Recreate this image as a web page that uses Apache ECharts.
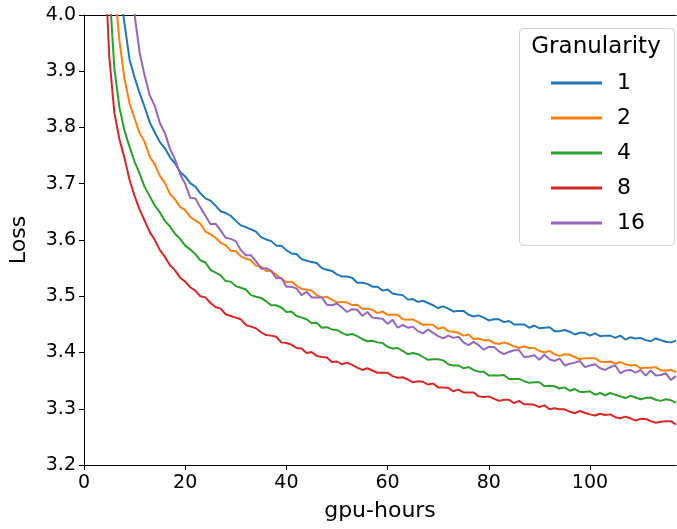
<!DOCTYPE html>
<html>
<head>
<meta charset="utf-8">
<script src="https://cdn.jsdelivr.net/npm/echarts@6/dist/echarts.min.js"></script>
<style>
html,body{margin:0;padding:0;background:#fff;}
#chart{width:677px;height:529px;}
</style>
</head>
<body>
<div id="chart"></div>
<script>
const gpuHours = [4,5,6,7,8,9,10,11,12,13,14,15,16,17,18,19,20,
21,22,23,24,25,26,27,28,29,30,31,32,33,34,35,36,37,38,39,40,
41,42,43,44,45,46,47,48,49,50,51,52,53,54,55,56,57,58,59,60,
61,62,63,64,65,66,67,68,69,70,71,72,73,74,75,76,77,78,79,80,
81,82,83,84,85,86,87,88,89,90,91,92,93,94,95,96,97,98,99,100,
101,102,103,104,105,106,107,108,109,110,111,112,113,114,115,116,117];

const granularity = ['1','2','4','8','16'];
const colors = ['#1f77b4','#ff7f0e','#2ca02c','#d62728','#9467bd'];

const loss1 = [null,null,null,4.050,3.985,3.921,3.889,3.861,3.836,3.809,3.791,3.774,3.763,3.747,3.736,3.721,3.713,
3.701,3.695,3.683,3.674,3.670,3.661,3.651,3.648,3.643,3.634,
3.626,3.623,3.619,3.615,3.605,3.601,3.598,3.590,3.590,3.582,
3.576,3.575,3.566,3.563,3.561,3.559,3.550,3.547,3.545,3.539,
3.535,3.535,3.533,3.524,3.524,3.522,3.517,3.517,3.510,3.512,
3.505,3.503,3.502,3.494,3.495,3.490,3.492,3.488,3.484,3.479,
3.482,3.478,3.473,3.474,3.474,3.467,3.464,3.466,3.462,3.457,
3.459,3.459,3.454,3.456,3.450,3.450,3.450,3.444,3.448,3.443,
3.444,3.445,3.438,3.438,3.440,3.437,3.432,3.435,3.435,3.430,
3.434,3.429,3.430,3.430,3.426,3.430,3.423,3.427,3.425,3.426,
3.422,3.420,3.425,3.422,3.419,3.418,3.421];

const loss2 = [null,null,4.050,3.955,3.887,3.843,3.816,3.790,3.774,3.748,3.734,3.714,3.701,3.682,3.672,3.659,3.653,
3.641,3.635,3.629,3.615,3.610,3.604,3.595,3.591,3.581,3.580,
3.571,3.567,3.564,3.554,3.553,3.545,3.545,3.538,3.531,3.525,
3.526,3.519,3.513,3.512,3.510,3.502,3.498,3.499,3.494,3.489,
3.490,3.489,3.484,3.485,3.478,3.478,3.476,3.470,3.473,3.467,
3.467,3.467,3.459,3.458,3.459,3.454,3.449,3.450,3.449,3.442,
3.445,3.438,3.437,3.435,3.430,3.432,3.424,3.425,3.422,3.422,
3.417,3.415,3.418,3.415,3.411,3.408,3.411,3.408,3.408,3.403,
3.400,3.403,3.397,3.394,3.397,3.396,3.392,3.388,3.390,3.390,
3.390,3.384,3.383,3.384,3.380,3.383,3.379,3.377,3.378,3.372,
3.373,3.373,3.374,3.368,3.368,3.369,3.365];

const loss4 = [null,4.050,3.905,3.836,3.794,3.766,3.739,3.718,3.694,3.678,3.661,3.649,3.634,3.624,3.611,3.602,3.590,
3.583,3.575,3.564,3.560,3.547,3.542,3.537,3.527,3.526,3.518,
3.515,3.512,3.502,3.499,3.497,3.491,3.484,3.484,3.480,3.472,
3.473,3.465,3.462,3.459,3.452,3.453,3.444,3.445,3.441,3.440,
3.435,3.431,3.433,3.429,3.424,3.420,3.421,3.418,3.417,3.410,
3.407,3.408,3.403,3.397,3.399,3.397,3.392,3.387,3.388,3.388,
3.386,3.379,3.377,3.377,3.372,3.374,3.369,3.366,3.366,3.359,
3.359,3.359,3.360,3.353,3.353,3.353,3.349,3.346,3.347,3.347,
3.340,3.341,3.340,3.336,3.338,3.332,3.335,3.330,3.330,3.331,
3.325,3.328,3.324,3.328,3.325,3.322,3.319,3.323,3.320,3.317,
3.319,3.320,3.316,3.314,3.317,3.315,3.311];

const loss8 = [4.120,3.925,3.826,3.779,3.746,3.707,3.678,3.654,3.634,3.614,3.600,3.582,3.570,3.555,3.546,3.533,3.526,
3.516,3.510,3.500,3.498,3.488,3.481,3.478,3.468,3.465,3.462,
3.459,3.449,3.446,3.443,3.436,3.431,3.430,3.428,3.418,3.417,
3.414,3.408,3.407,3.399,3.401,3.394,3.392,3.391,3.383,3.384,
3.379,3.382,3.378,3.373,3.369,3.372,3.368,3.364,3.364,3.364,
3.358,3.355,3.356,3.352,3.347,3.349,3.348,3.343,3.345,3.338,
3.338,3.337,3.331,3.334,3.329,3.329,3.329,3.322,3.321,3.322,
3.318,3.314,3.316,3.316,3.310,3.314,3.308,3.308,3.307,3.303,
3.306,3.299,3.301,3.299,3.299,3.295,3.292,3.296,3.293,3.290,
3.288,3.291,3.289,3.290,3.285,3.283,3.286,3.283,3.279,3.282,
3.282,3.278,3.275,3.277,3.278,3.278,3.272];

const loss16 = [null,null,null,null,null,4.100,4.000,3.933,3.892,3.857,3.838,3.808,3.790,3.762,3.743,3.717,3.700,
3.675,3.674,3.658,3.643,3.628,3.629,3.617,3.604,3.602,3.598,
3.582,3.573,3.573,3.562,3.549,3.550,3.545,3.532,3.533,3.517,
3.517,3.514,3.502,3.508,3.498,3.498,3.498,3.485,3.484,3.487,
3.480,3.472,3.477,3.476,3.465,3.472,3.462,3.461,3.460,3.451,
3.458,3.444,3.449,3.444,3.446,3.438,3.434,3.441,3.435,3.429,
3.425,3.430,3.426,3.428,3.418,3.413,3.419,3.413,3.405,3.410,
3.410,3.402,3.397,3.401,3.404,3.404,3.392,3.393,3.395,3.387,
3.396,3.388,3.385,3.389,3.377,3.380,3.382,3.385,3.374,3.377,
3.379,3.372,3.369,3.374,3.377,3.363,3.368,3.369,3.364,3.369,
3.359,3.368,3.359,3.360,3.363,3.351,3.358];

const xTicks = [0,20,40,60,80,100];
const yTicks = [3.2,3.3,3.4,3.5,3.6,3.7,3.8,3.9,4.0];

const allLoss = [loss1, loss2, loss4, loss8, loss16];
const FONT = 'DejaVu Sans';

const chart = echarts.init(document.getElementById('chart'), null, {renderer:'canvas'});

const series = allLoss.map((arr, i) => ({
  name: granularity[i],
  type: 'line',
  data: gpuHours.map((x, j) => [x, arr[j]]),
  showSymbol: false,
  symbol: 'none',
  connectNulls: false,
  clip: true,
  lineStyle: {width: 2, color: colors[i]},
  itemStyle: {color: colors[i]},
  emphasis: {disabled: true},
  z: 2
}));

chart.setOption({
  animation: false,
  backgroundColor: '#fff',
  grid: {left: 84, right: 1, top: 15, bottom: 64, containLabel: false},
  xAxis: [{
    type: 'value', min: 0, max: 117, interval: 20,
    name: 'gpu-hours', nameLocation: 'middle', nameGap: 35,
    nameTextStyle: {fontFamily: FONT, fontSize: 22, color: '#000'},
    axisLine: {show: true, onZero: false, lineStyle: {color: '#000', width: 1}},
    axisTick: {show: true, length: 5, lineStyle: {color: '#000'}},
    axisLabel: {fontFamily: FONT, fontSize: 19, color: '#000', margin: 9,
      showMaxLabel: false,
      formatter: v => xTicks.includes(v) ? String(v) : ''},
    splitLine: {show: false}
  },{
    type: 'value', min: 0, max: 117, position: 'top',
    axisLine: {show: true, onZero: false, lineStyle: {color: '#000', width: 1}},
    axisTick: {show: false}, axisLabel: {show: false}, splitLine: {show: false}
  }],
  yAxis: {
    type: 'value', min: 3.2, max: 4.0, interval: 0.1,
    name: 'Loss', nameLocation: 'middle', nameGap: 54,
    nameTextStyle: {fontFamily: FONT, fontSize: 22, color: '#000'},
    axisLine: {show: true, onZero: false, lineStyle: {color: '#000', width: 1}},
    axisTick: {show: true, length: 5, lineStyle: {color: '#000'}},
    axisLabel: {fontFamily: FONT, fontSize: 19, color: '#000', margin: 8,
      formatter: v => v.toFixed(1)},
    splitLine: {show: false}
  },
  legend: {
    data: granularity,
    orient: 'vertical',
    left: 546, top: 67,
    z: 20,
    icon: 'rect',
    itemWidth: 51, itemHeight: 3,
    itemGap: 13,
    selectedMode: false,
    inactiveColor: '#000',
    textStyle: {fontFamily: FONT, fontSize: 22, color: '#000', lineHeight: 22, padding: [0,0,0,10]}
  },
  graphic: [
    {type: 'rect', left: 519, top: 28, z: 10,
     shape: {width: 155, height: 217, r: 4},
     style: {fill: 'rgba(255,255,255,0.8)', stroke: '#d0d0d0', lineWidth: 1}},
    {type: 'text', z: 21, x: 596, y: 47,
     style: {text: 'Granularity', font: '23px "DejaVu Sans"', fill: '#000', textAlign: 'center', textVerticalAlign: 'middle'}}
  ],
  series: series
});
</script>
</body>
</html>
